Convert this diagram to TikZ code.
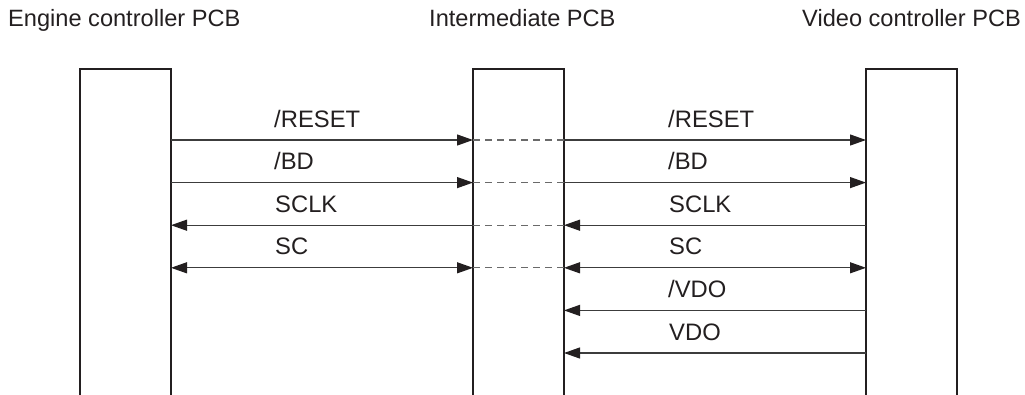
\documentclass[tikz,border=0pt]{standalone}
\usepackage{fontspec}
\setmainfont{Liberation Sans}
\usetikzlibrary{arrows.meta}
\definecolor{ink}{HTML}{231F20}
\definecolor{wire}{HTML}{3C3C3C}
\definecolor{dashc}{HTML}{6A6A6A}
\begin{document}
\begin{tikzpicture}[x=1pt,y=-1pt,
  pcb/.style={draw=ink,line width=2.2pt,minimum width=91pt,minimum height=360pt,
              anchor=north west,inner sep=0pt,outer sep=0pt},
  title/.style={anchor=base west,inner sep=0pt,text=ink,font=\fontsize{23.6}{28}\selectfont},
  sig/.style={anchor=base west,inner sep=0pt,text=ink,font=\fontsize{23.8}{28}\selectfont},
  wireline/.style={draw=wire,line width=1.2pt},
  tip/.style={-{Triangle[length=16pt,width=11pt,color=ink]}},
  tipboth/.style={{Triangle[length=16pt,width=11pt,color=ink]}-{Triangle[length=16pt,width=11pt,color=ink]}},
  tipback/.style={{Triangle[length=16pt,width=11pt,color=ink]}-},
  inner/.style={draw=dashc,line width=1.2pt,dash pattern=on 7pt off 5pt}]
\useasboundingbox (0,0) rectangle (1025,394);
\clip (0,0) rectangle (1025,394);
% boards
\node[pcb] (eng) at (80,69) {};
\node[pcb] (mid) at (473,69) {};
\node[pcb] (vid) at (866,69) {};
% titles
\node[title] (t1) at (8,26) {Engine controller PCB};
\node[title] (t2) at (429,26) {Intermediate PCB};
\node[title] (t3) at (802,26) {Video controller PCB};
% rows
\coordinate (r1) at (0,140);
\coordinate (r2) at (0,182.6);
\coordinate (r3) at (0,225.2);
\coordinate (r4) at (0,267.8);
\coordinate (r5) at (0,310.4);
\coordinate (r6) at (0,353);
% labels
\node[sig] (l1) at (274,127) {/RESET};
\node[sig] (l2) at (274,169.6) {/BD};
\node[sig] (l3) at (275,212.2) {SCLK};
\node[sig] (l4) at (275,254.8) {SC};
\node[sig] (m1) at (668,127) {/RESET};
\node[sig] (m2) at (668,169.6) {/BD};
\node[sig] (m3) at (669,212.2) {SCLK};
\node[sig] (m4) at (669,254.8) {SC};
\node[sig] (m5) at (668,297.4) {/VDO};
\node[sig] (m6) at (669,340) {VDO};
% /RESET
\draw[wireline,tip] (eng.east |- r1) -- (mid.west |- r1);
\draw[inner] (mid.west |- r1) -- (mid.east |- r1);
\draw[wireline,tip] (mid.east |- r1) -- (vid.west |- r1);
% /BD
\draw[wireline,tip] (eng.east |- r2) -- (mid.west |- r2);
\draw[inner] (mid.west |- r2) -- (mid.east |- r2);
\draw[wireline,tip] (mid.east |- r2) -- (vid.west |- r2);
% SCLK
\draw[wireline,tipback] (eng.east |- r3) -- (mid.west |- r3);
\draw[inner] (mid.west |- r3) -- (mid.east |- r3);
\draw[wireline,tipback] (mid.east |- r3) -- (vid.west |- r3);
% SC
\draw[wireline,tipboth] (eng.east |- r4) -- (mid.west |- r4);
\draw[inner] (mid.west |- r4) -- (mid.east |- r4);
\draw[wireline,tipboth] (mid.east |- r4) -- (vid.west |- r4);
% /VDO, VDO
\draw[wireline,tipback] (mid.east |- r5) -- (vid.west |- r5);
\draw[wireline,tipback] (mid.east |- r6) -- (vid.west |- r6);
\end{tikzpicture}
\end{document}
